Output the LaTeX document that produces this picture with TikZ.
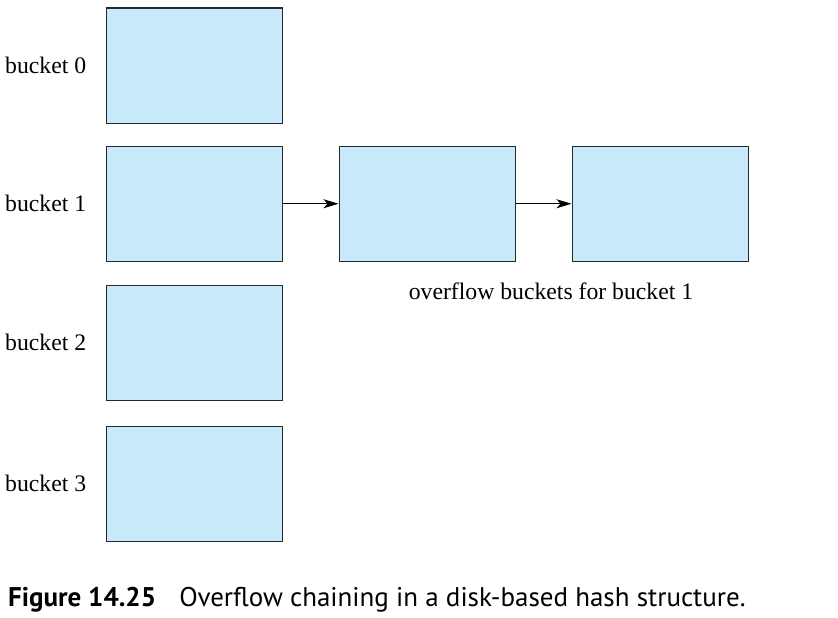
\documentclass[tikz,border=0pt]{standalone}
\usepackage{fontspec}
\setmainfont{Liberation Serif}
\newfontfamily\capfont{PT Sans}
\usetikzlibrary{arrows.meta}
\definecolor{boxfill}{RGB}{199,233,249}
\definecolor{boxline}{RGB}{40,40,45}
\tikzset{
  bucketbox/.style={draw=boxline,line width=1.5pt,fill=boxfill,minimum width=176pt,minimum height=115pt,inner sep=0pt,anchor=north west},
  lbl/.style={font=\fontsize{23.7}{28}\selectfont,inner sep=0pt},
  chain/.style={line width=1.1pt,-{Stealth[length=15pt,width=9pt,inset=4pt]}}
}
\begin{document}
\begin{tikzpicture}[x=1pt,y=-1pt]
\useasboundingbox (0,0) rectangle (838,618);
\node[bucketbox] (b0) at (105.5,7.5) {};
\node[bucketbox] (b1) at (105.5,145.5) {};
\node[bucketbox] (b2) at (105.5,284.5) {};
\node[bucketbox] (b3) at (105.5,425.5) {};
\node[bucketbox] (o1) at (338.5,145.5) {};
\node[bucketbox] (o2) at (571.5,145.5) {};
\node[lbl,anchor=west] (l0) at (5,65) {bucket 0};
\node[lbl,anchor=west] (l1) at (5,203) {bucket 1};
\node[lbl,anchor=west] (l2) at (5,342) {bucket 2};
\node[lbl,anchor=west] (l3) at (5,483) {bucket 3};
\node[lbl] (ov) at (551,291) {overflow buckets for bucket 1};
\draw[chain] (b1.east) -- (o1.west);
\draw[chain] (o1.east) -- (o2.west);
\node[anchor=west,inner sep=0pt,font=\capfont\fontsize{27}{32}\selectfont] (cap) at (8,600) {\textbf{Figure 14.25}\hspace{0.6em} Overflow chaining in a disk-based hash structure.};
\end{tikzpicture}
\end{document}
